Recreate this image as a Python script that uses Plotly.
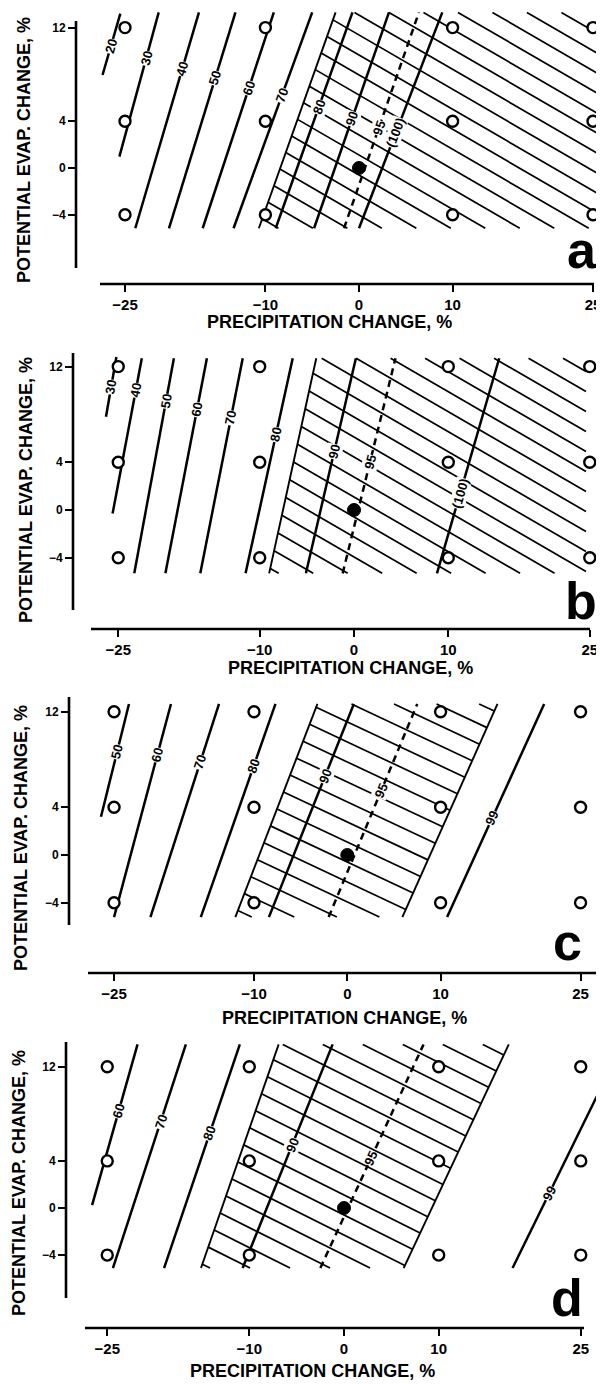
import math
import plotly.graph_objects as go

# ---------------- data ----------------
SITE_X = [-25, -10, 10, 25]
SITE_Y = [-4, 4, 12]
BASE_X = [0]
BASE_Y = [0]
X_TICKS = [-25, -10, 0, 10, 25]
X_TICK_TEXT = ["\u221225", "\u221210", "0", "10", "25"]
Y_TICKS = [-4, 0, 4, 12]
Y_TICK_TEXT = ["\u22124", "0", "4", "12"]
X_TITLE = "PRECIPITATION CHANGE, %"
Y_TITLE = "POTENTIAL EVAP. CHANGE, %"

# panel a
A_LABEL = ["20", "30", "40", "50", "60", "70", "80", "90", "95", "(100)"]
A_X_BOT = [-27.4, -25.6, -23.9, -20.3, -16.7, -13.4, -8.9, -4.8, -1.6, 0.0]
A_Y_BOT = [7.95, 0.97, -5.15, -5.15, -5.15, -5.15, -5.15, -5.15, -5.15, -5.15]
A_X_TOP = [-25.5, -21.4, -17.1, -13.2, -9.1, -5.0, -0.7, 3.2, 6.4, 8.9]
A_Y_TOP = [13.2, 13.3, 13.3, 13.3, 13.3, 13.3, 13.3, 13.3, 13.3, 13.3]
A_LABEL_Y = [10.4, 9.4, 8.5, 7.7, 6.8, 6.2, 5.2, 4.2, 3.4, 3.0]
A_HATCH_LEFT_X = [-10.7, -2.5]
A_HATCH_RIGHT_X = [25.5, 25.5]
A_HATCH_Y = [-5.15, 13.3]

# panel b
B_LABEL = ["30", "40", "50", "60", "70", "80", "90", "95", "(100)"]
B_X_BOT = [-26.3, -25.6, -23.3, -20.0, -16.3, -11.5, -5.1, -1.2, 8.8]
B_Y_BOT = [7.8, -0.3, -5.3, -5.3, -5.3, -5.3, -5.3, -5.3, -5.3]
B_X_TOP = [-25.2, -22.5, -19.1, -15.6, -11.8, -6.5, 0.2, 4.4, 15.4]
B_Y_TOP = [12.8, 12.7, 12.7, 12.7, 12.7, 12.7, 12.7, 12.7, 12.7]
B_LABEL_Y = [10.3, 10.0, 9.1, 8.4, 7.7, 6.3, 4.9, 4.0, 1.4]
B_HATCH_LEFT_X = [-9.0, -4.0]
B_HATCH_RIGHT_X = [24.6, 24.6]
B_HATCH_Y = [-5.3, 12.7]

# panel c
C_LABEL = ["50", "60", "70", "80", "90", "95", "99"]
C_X_BOT = [-26.4, -25.0, -21.1, -15.7, -8.4, -2.0, 10.7]
C_Y_BOT = [3.2, -5.2, -5.2, -5.2, -5.2, -5.2, -5.2]
C_X_TOP = [-23.4, -18.9, -13.75, -7.7, 0.7, 7.5, 21.1]
C_Y_TOP = [12.65, 12.65, 12.65, 12.65, 12.65, 12.65, 12.65]
C_LABEL_Y = [8.65, 8.4, 7.8, 7.4, 6.6, 5.4, 3.1]
C_HATCH_LEFT_X = [-12.0, -3.2]
C_HATCH_RIGHT_X = [5.9, 16.1]
C_HATCH_Y = [-5.2, 12.65]

# panel d
D_LABEL = ["60", "70", "80", "90", "95", "99"]
D_X_BOT = [-26.6, -24.4, -19.0, -10.7, -2.5, 17.8]
D_Y_BOT = [0.25, -5.1, -5.1, -5.1, -5.1, -5.1]
D_X_TOP = [-21.8, -16.7, -11.0, -1.2, 8.4, 26.7]
D_Y_TOP = [13.9, 13.9, 13.9, 13.9, 13.9, 9.5]
D_LABEL_Y = [8.2, 7.3, 6.3, 5.35, 4.2, 1.25]
D_HATCH_LEFT_X = [-15.1, -6.9]
D_HATCH_RIGHT_X = [6.3, 17.4]
D_HATCH_Y = [-5.1, 13.9]

PANELS = [
    dict(name="a", label=A_LABEL, xb=A_X_BOT, yb=A_Y_BOT, xt=A_X_TOP, yt=A_Y_TOP,
         ly=A_LABEL_Y, hl=A_HATCH_LEFT_X, hr=A_HATCH_RIGHT_X, hy=A_HATCH_Y),
    dict(name="b", label=B_LABEL, xb=B_X_BOT, yb=B_Y_BOT, xt=B_X_TOP, yt=B_Y_TOP,
         ly=B_LABEL_Y, hl=B_HATCH_LEFT_X, hr=B_HATCH_RIGHT_X, hy=B_HATCH_Y),
    dict(name="c", label=C_LABEL, xb=C_X_BOT, yb=C_Y_BOT, xt=C_X_TOP, yt=C_Y_TOP,
         ly=C_LABEL_Y, hl=C_HATCH_LEFT_X, hr=C_HATCH_RIGHT_X, hy=C_HATCH_Y),
    dict(name="d", label=D_LABEL, xb=D_X_BOT, yb=D_Y_BOT, xt=D_X_TOP, yt=D_Y_TOP,
         ly=D_LABEL_Y, hl=D_HATCH_LEFT_X, hr=D_HATCH_RIGHT_X, hy=D_HATCH_Y),
]

# ---------------- layout geometry (window pixels) ----------------
WIN_W, WIN_H = 604, 1384
OFF = 8                      # default page margin around the plot div
W, H = WIN_W - OFF, WIN_H - OFF

GEOM = {
    "a": dict(x0=359, sx=9.36, y0=168, sy=11.7, top=8, bottom=290, xline_y=284,
              xline=(100, 594), yline_x=76, yline=(21, 268), xtitle=(329, 322),
              ytitle=(24, 150), letter=(582, 250), slope=0.58, right_line=False),
    "b": dict(x0=354, sx=9.43, y0=510, sy=11.95, top=335, bottom=635, xline_y=629,
              xline=(91, 590), yline_x=73, yline=(353, 610), xtitle=(350, 668),
              ytitle=(26, 490), letter=(581, 601), slope=0.58, right_line=False),
    "c": dict(x0=347.3, sx=9.33, y0=855, sy=11.94, top=679, bottom=979, xline_y=973,
              xline=(88, 598), yline_x=69, yline=(697, 925), xtitle=(344, 1018),
              ytitle=(21, 838), letter=(567, 942), slope=0.47, right_line=True),
    "d": dict(x0=344, sx=9.47, y0=1208, sy=11.77, top=1024, bottom=1334, xline_y=1328,
              xline=(85, 584), yline_x=66, yline=(1042, 1298), xtitle=(312, 1371),
              ytitle=(19, 1183), letter=(567, 1298), slope=0.50, right_line=True),
}
LEFT_PX, RIGHT_PX = 56, 604
HATCH_SPACING = 20.0
FONT = "Liberation Sans"
INK = "black"


def clamp(v):
    return min(1.0, max(0.0, v))


def px_x(px):
    return (px - OFF) / W


def px_y(py):
    return 1 - (py - OFF) / H


def hatch_segments(g, lb, rb, hy, spacing, slope):
    X = lambda x: g["x0"] + g["sx"] * x
    Y = lambda y: g["y0"] - g["sy"] * y
    poly = [(X(lb[0]), Y(hy[0])), (X(rb[0]), Y(hy[0])),
            (X(rb[1]), Y(hy[1])), (X(lb[1]), Y(hy[1]))]
    cs = [py - slope * px for px, py in poly]
    c_ref = Y(0) - slope * X(0)
    n0 = math.ceil((min(cs) - c_ref) / spacing)
    xs, ys = [], []
    c = c_ref + n0 * spacing + spacing * 0.35
    while c < max(cs):
        pts = []
        for i in range(4):
            (ax, ay), (bx, by) = poly[i], poly[(i + 1) % 4]
            fa = ay - slope * ax - c
            fb = by - slope * bx - c
            if fa == fb:
                continue
            if (fa <= 0 <= fb) or (fb <= 0 <= fa):
                t = fa / (fa - fb)
                pts.append((ax + t * (bx - ax), ay + t * (by - ay)))
        if len(pts) >= 2:
            pts.sort()
            p, q = pts[0], pts[-1]
            if abs(q[0] - p[0]) > 1:
                xs += [(p[0] - g["x0"]) / g["sx"], (q[0] - g["x0"]) / g["sx"], None]
                ys += [(g["y0"] - p[1]) / g["sy"], (g["y0"] - q[1]) / g["sy"], None]
        c += spacing
    return xs, ys


fig = go.Figure()
layout = dict(width=W, height=H, margin=dict(l=0, r=0, t=0, b=0), autosize=False,
              paper_bgcolor="white", plot_bgcolor="white", showlegend=False)
annotations = []
shapes = []

for i, p in enumerate(PANELS, start=1):
    g = GEOM[p["name"]]
    xa_name = "xaxis" if i == 1 else f"xaxis{i}"
    ya_name = "yaxis" if i == 1 else f"yaxis{i}"
    xr = "x" if i == 1 else f"x{i}"
    yr = "y" if i == 1 else f"y{i}"

    left = max(LEFT_PX, OFF)
    right = min(RIGHT_PX, WIN_W)
    top = max(g["top"], OFF)
    bottom = min(g["bottom"], WIN_H)
    xrange = [(left - g["x0"]) / g["sx"], (right - g["x0"]) / g["sx"]]
    yrange = [(g["y0"] - bottom) / g["sy"], (g["y0"] - top) / g["sy"]]

    layout[xa_name] = dict(
        domain=[clamp(px_x(left)), clamp(px_x(right))], range=xrange, anchor="free",
        position=clamp(px_y(g["xline_y"])), showline=False, showgrid=False,
        zeroline=False, tickmode="array", tickvals=X_TICKS, ticktext=X_TICK_TEXT,
        ticks="outside", ticklen=7, tickwidth=2.2, tickcolor=INK,
        tickfont=dict(family=FONT, size=15, color=INK, weight="bold"), fixedrange=True)
    layout[ya_name] = dict(
        domain=[clamp(px_y(bottom)), clamp(px_y(top))], range=yrange, anchor="free",
        position=clamp(px_x(g["yline_x"])), showline=False, showgrid=False,
        zeroline=False, tickmode="array", tickvals=Y_TICKS, ticktext=Y_TICK_TEXT,
        ticks="outside", ticklen=8, tickwidth=2.2, tickcolor=INK,
        tickfont=dict(family=FONT, size=12, color=INK, weight="bold"), fixedrange=True)

    # axis lines
    shapes.append(dict(type="line", xref="paper", yref="paper",
                       x0=px_x(g["xline"][0]), x1=px_x(g["xline"][1]),
                       y0=px_y(g["xline_y"]), y1=px_y(g["xline_y"]),
                       line=dict(color=INK, width=2.6)))
    shapes.append(dict(type="line", xref="paper", yref="paper",
                       x0=px_x(g["yline_x"]), x1=px_x(g["yline_x"]),
                       y0=px_y(g["yline"][0]), y1=px_y(g["yline"][1]),
                       line=dict(color=INK, width=2.6)))

    # hatching
    hx, hyy = hatch_segments(g, p["hl"], p["hr"], p["hy"], HATCH_SPACING, g["slope"])
    fig.add_trace(go.Scatter(x=hx, y=hyy, mode="lines", xaxis=xr, yaxis=yr,
                             line=dict(color=INK, width=1.7), hoverinfo="skip"))
    # hatch boundaries
    bx = [p["hl"][0], p["hl"][1], None]
    by = [p["hy"][0], p["hy"][1], None]
    if g["right_line"]:
        bx += [p["hr"][0], p["hr"][1]]
        by += [p["hy"][0], p["hy"][1]]
    fig.add_trace(go.Scatter(x=bx, y=by, mode="lines", xaxis=xr, yaxis=yr,
                             line=dict(color=INK, width=1.9), hoverinfo="skip"))

    # contour lines
    for lab, x_b, y_b, x_t, y_t, l_y in zip(p["label"], p["xb"], p["yb"], p["xt"],
                                             p["yt"], p["ly"]):
        dashed = lab == "95"
        fig.add_trace(go.Scatter(
            x=[x_b, x_t], y=[y_b, y_t], mode="lines", xaxis=xr, yaxis=yr,
            line=dict(color=INK, width=2.5, dash="7px,5px" if dashed else "solid"),
            hoverinfo="skip"))
        lx = x_b + (x_t - x_b) * (l_y - y_b) / (y_t - y_b)
        ang = math.degrees(math.atan2((y_t - y_b) * g["sy"], (x_t - x_b) * g["sx"]))
        annotations.append(dict(
            x=lx, y=l_y, xref=xr, yref=yr, text=lab, showarrow=False,
            textangle=-ang, bgcolor="white", borderpad=0,
            font=dict(family=FONT, size=13, color=INK, weight="bold")))

    # sites
    sx_, sy_ = [], []
    for yv in SITE_Y:
        for xv in SITE_X:
            sx_.append(xv)
            sy_.append(yv)
    fig.add_trace(go.Scatter(x=sx_, y=sy_, mode="markers", xaxis=xr, yaxis=yr,
                             marker=dict(symbol="circle", size=11, color="white",
                                         line=dict(color=INK, width=2.4)),
                             hoverinfo="skip"))
    fig.add_trace(go.Scatter(x=BASE_X, y=BASE_Y, mode="markers", xaxis=xr, yaxis=yr,
                             marker=dict(symbol="circle", size=13, color=INK,
                                         line=dict(color=INK, width=1)),
                             hoverinfo="skip"))

    # titles and panel letter
    annotations.append(dict(x=px_x(g["xtitle"][0]), y=px_y(g["xtitle"][1]),
                            xref="paper", yref="paper", text=X_TITLE, showarrow=False,
                            xanchor="center", yanchor="middle",
                            font=dict(family=FONT, size=18, color=INK, weight="bold")))
    annotations.append(dict(x=px_x(g["ytitle"][0]), y=px_y(g["ytitle"][1]),
                            xref="paper", yref="paper", text=Y_TITLE, showarrow=False,
                            textangle=-90, xanchor="center", yanchor="middle",
                            font=dict(family=FONT, size=18, color=INK, weight="bold")))
    annotations.append(dict(x=px_x(g["letter"][0]), y=px_y(g["letter"][1]),
                            xref="paper", yref="paper", text=p["name"], showarrow=False,
                            xanchor="center", yanchor="middle",
                            font=dict(family=FONT, size=52, color=INK, weight="bold")))

layout["annotations"] = annotations
layout["shapes"] = shapes
fig.update_layout(**layout)
fig.write_html("out.html")
